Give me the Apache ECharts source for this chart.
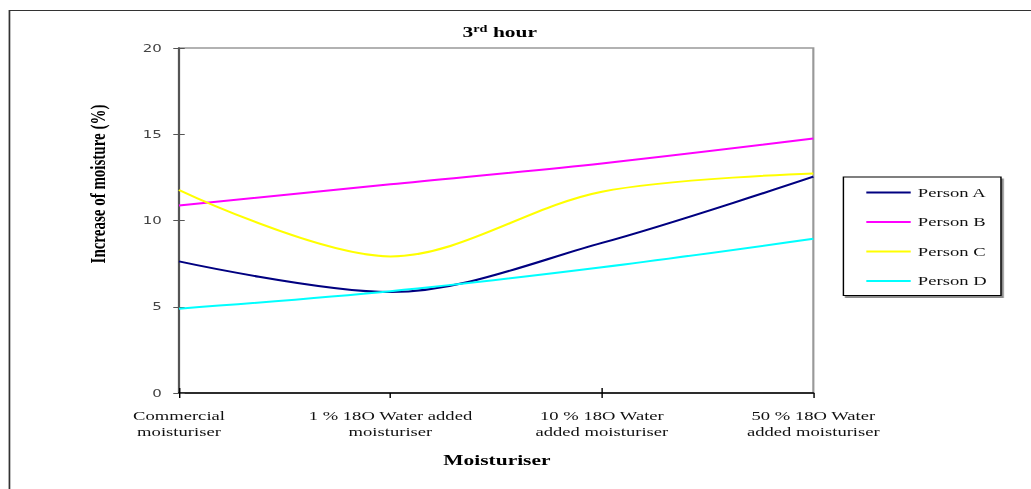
<!DOCTYPE html>
<html>
<head>
<meta charset="utf-8">
<script src="https://cdn.jsdelivr.net/npm/echarts@6/dist/echarts.min.js"></script>
<style>
  html, body { margin: 0; padding: 0; background: #fff; overflow: hidden; }
  /* the chart is laid out at 720px wide and widened to fill the 1031px frame */
  #chart { width: 720px; height: 489px; transform: scaleX(1.43194); transform-origin: 0 0; }
</style>
</head>
<body>
<div id="chart"></div>
<script>
// Moisture increase after 3 hours, per moisturiser and person
const categories = [
  'Commercial\nmoisturiser',
  '1 % 18O Water added\nmoisturiser',
  '10 % 18O Water\nadded moisturiser',
  '50 % 18O Water\nadded moisturiser'
];
const personA = [7.63, 5.85, 8.7, 12.54];
const personB = [10.87, 12.1, 13.31, 14.75];
const personC = [11.77, 7.92, 11.67, 12.73];
const personD = [4.89, 5.9, 7.29, 8.94];
const yTicks = { min: 0, max: 20, interval: 5 };

const SERIF = '"Liberation Serif", "Times New Roman", serif';
const SANS = '"DejaVu Sans", Verdana, sans-serif';

const chart = echarts.init(document.getElementById('chart'), null, { renderer: 'svg' });

function line(name, data, color) {
  return {
    name: name,
    type: 'line',
    data: data,
    smooth: 0.33,
    symbol: 'none',
    lineStyle: { color: color, width: 2 },
    itemStyle: { color: color }
  };
}

chart.setOption({
  animation: false,
  backgroundColor: '#fff',
  title: {
    text: '{a|3}{s|rd}{a| hour}',
    left: 344,
    top: 19,
    textAlign: 'center',
    textStyle: {
      rich: {
        a: { fontFamily: SERIF, fontWeight: 'bold', fontSize: 15, color: '#000' },
        s: { fontFamily: SERIF, fontWeight: 'bold', fontSize: 10, color: '#000', verticalAlign: 'top', padding: [0, 0, 6, 0] }
      }
    }
  },
  grid: {
    left: 125, right: 152, top: 48, bottom: 96,
    show: true, borderColor: '#999', borderWidth: 1.5, backgroundColor: 'transparent'
  },
  legend: {
    orient: 'vertical',
    left: 589,
    top: 177,
    padding: [9, 10, 8, 16],
    itemWidth: 31,
    itemHeight: 14,
    itemGap: 16.5,
    icon: 'path://M0,6 L31,6 L31,8 L0,8 Z',
    borderColor: '#000',
    borderWidth: 1,
    backgroundColor: '#fff',
    shadowColor: 'rgba(0,0,0,0.45)',
    shadowOffsetX: 1.5,
    shadowOffsetY: 2,
    shadowBlur: 0,
    textStyle: { fontFamily: SERIF, fontSize: 13, color: '#111' },
    data: ['Person A', 'Person B', 'Person C', 'Person D']
  },
  xAxis: [
    {
      type: 'category',
      data: categories,
      boundaryGap: false,
      axisLine: { lineStyle: { color: '#000', width: 1.5 } },
      axisTick: { show: true, length: 5, lineStyle: { color: '#000' } },
      axisLabel: { fontFamily: SERIF, fontSize: 13, color: '#111', lineHeight: 16, margin: 15, interval: 0 },
      splitLine: { show: false }
    },
    {
      type: 'category',
      data: categories,
      boundaryGap: false,
      position: 'bottom',
      axisLine: { show: false },
      axisTick: { show: true, inside: true, length: 5, lineStyle: { color: '#000' } },
      axisLabel: { show: false },
      splitLine: { show: false }
    }
  ],
  yAxis: [
    {
      type: 'value',
      min: yTicks.min, max: yTicks.max, interval: yTicks.interval,
      axisLine: { show: true, lineStyle: { color: '#555', width: 1.5 } },
      axisTick: { show: true, length: 4, lineStyle: { color: '#555' } },
      axisLabel: { fontFamily: SANS, fontSize: 10.5, color: '#444', margin: 12 },
      splitLine: { show: false }
    },
    {
      type: 'value',
      position: 'left',
      min: yTicks.min, max: yTicks.max, interval: yTicks.interval,
      axisLine: { show: false },
      axisTick: { show: true, inside: true, length: 4, lineStyle: { color: '#555' } },
      axisLabel: { show: false },
      splitLine: { show: false }
    }
  ],
  graphic: [
    {
      type: 'polyline',
      silent: true,
      shape: { points: [[6.6, 489], [6.6, 10.5], [720, 10.5]] },
      style: { stroke: '#333', lineWidth: 1.2, fill: null }
    },
    {
      type: 'text',
      x: 68.4, y: 184,
      rotation: Math.PI / 2,
      style: {
        text: 'Increase of moisture (%)',
        fontFamily: SERIF, fontWeight: 'bold', fontSize: 15, fill: '#000',
        textAlign: 'center', textVerticalAlign: 'middle'
      }
    },
    {
      type: 'text',
      x: 347, y: 460,
      style: {
        text: 'Moisturiser',
        fontFamily: SERIF, fontWeight: 'bold', fontSize: 15, fill: '#000',
        textAlign: 'center', textVerticalAlign: 'middle'
      }
    }
  ],
  series: [
    line('Person A', personA, '#000080'),
    line('Person B', personB, '#ff00ff'),
    line('Person C', personC, '#ffff00'),
    line('Person D', personD, '#00ffff')
  ]
});
</script>
</body>
</html>
